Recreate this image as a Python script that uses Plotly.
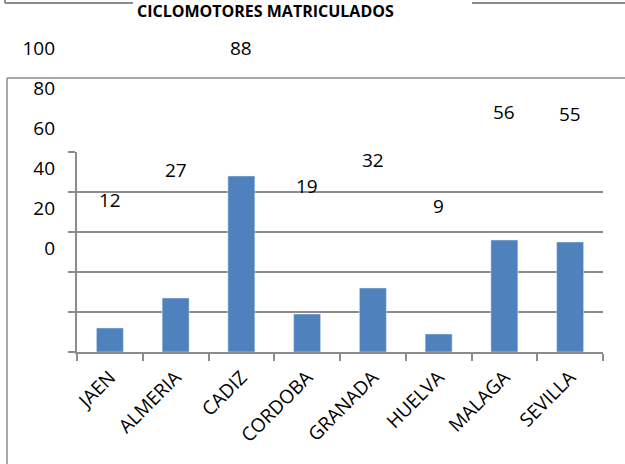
import plotly.graph_objects as go

categories = ["JAEN", "ALMERIA", "CADIZ", "CORDOBA", "GRANADA", "HUELVA", "MALAGA", "SEVILLA"]
values = [12, 27, 88, 19, 32, 9, 56, 55]
y_ticks = [0, 20, 40, 60, 80, 100]
title_text = "CICLOMOTORES MATRICULADOS"

W, H = 625, 464
GRAY = "#8c8c8c"
BAR = "#4F81BD"
FONT = "Open Sans"

def px(x):
    return x / W

def py(y):
    return 1 - y / H

fig = go.Figure()
fig.add_trace(go.Bar(x=categories, y=values, marker_color=BAR, width=0.41,
                     hoverinfo="skip"))
# invisible trace carrying the (offset) tick-label axis
fig.add_trace(go.Scatter(x=[categories[0]], y=[0], yaxis="y2", mode="markers",
                         marker=dict(opacity=0), hoverinfo="skip", showlegend=False))

annotations = []
for c, v in zip(categories, values):
    annotations.append(dict(x=c, y=v, xref="x", yref="y2", text=str(v), showarrow=False,
                            yshift=24, font=dict(family=FONT, size=19, color="black")))
annotations.append(dict(x=px(265), y=py(11), xref="paper", yref="paper", text="<b>" + title_text + "</b>",
                        showarrow=False, font=dict(family=FONT, size=16, color="black"),
                        xanchor="center", yanchor="middle"))

shapes = [
    dict(type="line", xref="paper", yref="paper", x0=px(5), x1=px(133), y0=py(3), y1=py(3),
         line=dict(color=GRAY, width=2)),
    dict(type="line", xref="paper", yref="paper", x0=px(472), x1=px(625), y0=py(3), y1=py(3),
         line=dict(color=GRAY, width=2)),
    dict(type="line", xref="paper", yref="paper", x0=px(5), x1=px(5), y0=py(0), y1=py(3),
         line=dict(color=GRAY, width=2)),
    dict(type="line", xref="paper", yref="paper", x0=px(7), x1=px(625), y0=py(78), y1=py(78),
         line=dict(color=GRAY, width=1.5)),
    dict(type="line", xref="paper", yref="paper", x0=px(7), x1=px(7), y0=py(78), y1=py(464),
         line=dict(color=GRAY, width=1.5)),
]

fig.update_layout(
    width=W, height=H,
    margin=dict(l=0, r=0, t=0, b=0, pad=0, autoexpand=False),
    paper_bgcolor="white", plot_bgcolor="rgba(0,0,0,0)",
    showlegend=False,
    annotations=annotations,
    shapes=shapes,
    xaxis=dict(domain=[px(77), px(603)], showline=True, linecolor=GRAY, linewidth=1.5,
               ticks="outside", tickson="boundaries", ticklen=7, tickcolor=GRAY, tickwidth=1.5,
               tickangle=-45, showgrid=False, automargin=False, ticklabelstandoff=5,
               tickfont=dict(family=FONT, size=19, color="black")),
    yaxis=dict(domain=[py(352), py(152)], range=[0, 100], tickvals=y_ticks,
               showticklabels=False, showline=True, linecolor=GRAY, linewidth=1.5,
               ticks="outside", ticklen=7, tickcolor=GRAY, tickwidth=1.5, automargin=False,
               showgrid=True, gridcolor=GRAY, gridwidth=1.5, zeroline=False),
    yaxis2=dict(domain=[py(248), py(48)], range=[0, 100], tickvals=y_ticks,
                anchor="free", position=px(55), showline=False, showgrid=False,
                zeroline=False, ticks="", automargin=False,
                tickfont=dict(family=FONT, size=19, color="black")),
)

fig.write_html("out.html", config={"displayModeBar": False},
               post_script="document.body.style.margin='0';")
